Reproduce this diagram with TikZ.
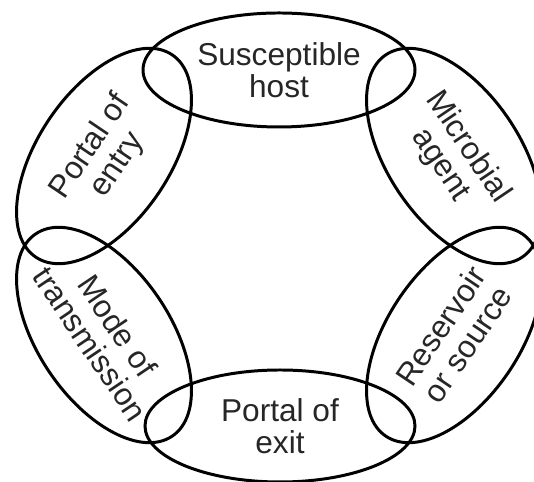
\documentclass[tikz,border=0pt]{standalone}
\usepackage{fontspec}
\setmainfont{Liberation Sans}

\begin{document}
\begin{tikzpicture}[x=0.02cm, y=0.02cm,
    link/.style={line width=1.7pt},
    word/.style={align=center, inner sep=0pt, text=black!85,
      font=\fontsize{18}{18.5}\selectfont}]
      \clip (0,0) rectangle (534,482);
      % the six links of the chain
      \node[word] (host) at (279,412) {Susceptible\\host};
      \node[word, rotate=-56] (agent) at (454,326) {Microbial\\agent};
      \node[word, rotate=56] (source) at (454,147) {Reservoir\\or source};
      \node[word] (exit) at (280,56) {Portal of\\exit};
      \node[word, rotate=-56] (mode) at (104,147) {Mode of\\transmission};
      \node[word, rotate=56] (entry) at (104,326) {Portal of\\entry};
      \draw[link] (host.center) ellipse [x radius=136, y radius=57];
      \draw[link] (exit.center) ellipse [x radius=135, y radius=56];
      \draw[link, rotate around={-56:(454,326)}] (454,326) ellipse [x radius=122, y radius=66];
      \draw[link, rotate around={56:(454,147)}] (454,147) ellipse [x radius=122, y radius=66];
      \draw[link, rotate around={-56:(104,147)}] (104,147) ellipse [x radius=122, y radius=66];
      \draw[link, rotate around={56:(104,326)}] (104,326) ellipse [x radius=122, y radius=66];
    \end{tikzpicture}
\end{document}
